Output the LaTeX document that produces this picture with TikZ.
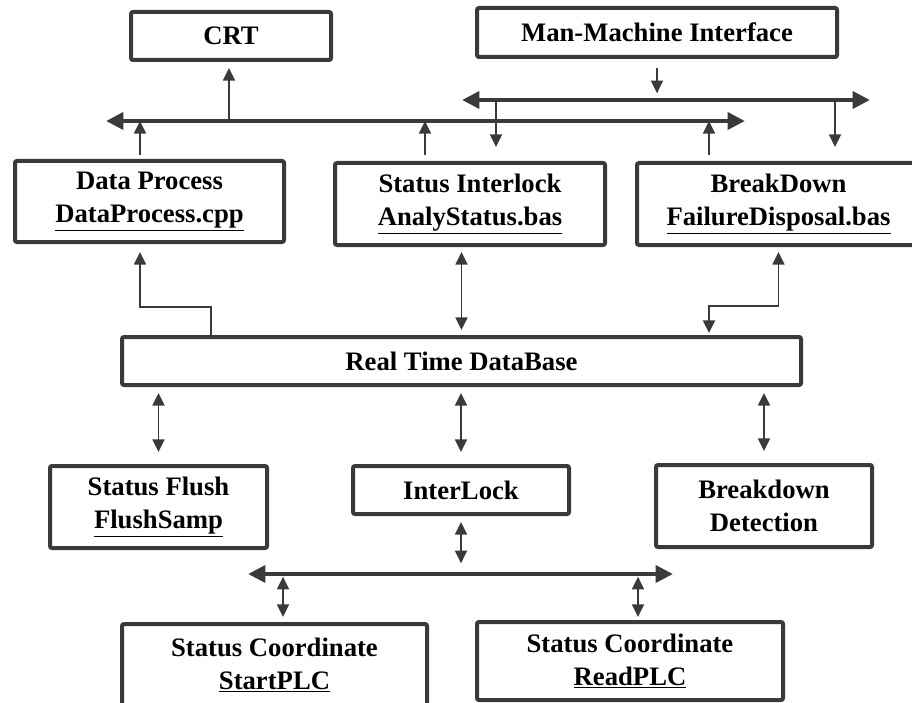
\documentclass[tikz,border=0pt]{standalone}
\usepackage{fontspec}
\setmainfont{Liberation Serif}
\usetikzlibrary{arrows.meta,calc}
\definecolor{linegray}{RGB}{58,58,58}
\tikzset{
  box/.style={draw=linegray, line width=3pt, rounded corners=1.5pt, fill=white, align=center,
    inner sep=0pt, outer sep=0pt, font=\bfseries\fontsize{20}{25}\selectfont},
  bus/.style={draw=linegray, line width=3.6pt, {Triangle[width=12.5pt,length=13pt]}-{Triangle[width=12.5pt,length=13pt]}},
  link/.style={draw=linegray, line width=1.2pt, -{Triangle[width=9pt,length=9.5pt]}},
  dlink/.style={link, {Triangle[width=9pt,length=9.5pt]}-{Triangle[width=9pt,length=9.5pt]}}
}
\begin{document}
\begin{tikzpicture}[x=0.75pt,y=0.75pt,yscale=-1,xscale=1]
        \useasboundingbox (0,0) rectangle (912,702);
        \clip (0,0) rectangle (912,702);
        % Boxes
        \node[box, minimum width=150pt, minimum height=36pt] (crt) at (231,36) {CRT};
        \node[box, minimum width=270pt, minimum height=36.75pt] (mmi) at (657,32.5) {Man-Machine Interface};
        \node[box, minimum width=201.75pt, minimum height=60.75pt] (dproc) at (149.5,201.5) {Data Process\\\underline{DataProcess.cpp}};
        \node[box, minimum width=202.5pt, minimum height=61.5pt] (sinter) at (470,204) {Status Interlock\\\underline{AnalyStatus.bas}};
        \node[box, minimum width=212.25pt, minimum height=61.5pt] (bdown) at (778.5,204) {BreakDown\\\underline{FailureDisposal.bas}};
        \node[box, minimum width=509.25pt, minimum height=36pt] (rtdb) at (461.5,361) {Real Time DataBase};
        \node[box, minimum width=162.75pt, minimum height=61.5pt] (sflush) at (158.5,507) {Status Flush\\\underline{FlushSamp}};
        \node[box, minimum width=162pt, minimum height=36pt] (ilock) at (461,490) {InterLock};
        \node[box, minimum width=162pt, minimum height=61.5pt] (bdetect) at (764,506) {Breakdown\\Detection};
        \node[box, minimum width=228.75pt, minimum height=61.5pt] (scstart) at (274.5,665) {Status Coordinate\\\underline{StartPLC}};
        \node[box, minimum width=229.5pt, minimum height=58.5pt] (scread) at (630,661) {Status Coordinate\\\underline{ReadPLC}};

        % Bus ends and taps
        \coordinate (b1w) at (106,121);
        \coordinate (b1e) at (745,121);
        \coordinate (b2w) at (462,100);
        \coordinate (b2e) at (870,100);
        \coordinate (b3w) at (248,574);
        \coordinate (b3e) at (673,574);
        \coordinate (tapcrt) at (229,121);
        \coordinate (tapdp) at (140,121);
        \coordinate (tapsi) at (425,121);
        \coordinate (tapbd) at (709,121);
        \coordinate (tapmm) at (657,100);
        \coordinate (dropsi) at (496,100);
        \coordinate (dropbd) at (835,100);
        \coordinate (elbdp) at (211,307);
        \coordinate (elbbd) at (709,306);
        \coordinate (tapss) at (283,574);
        \coordinate (tapsr) at (638,574);

        % Upper links
        \draw[link, shorten >=6pt] (tapcrt) -- (tapcrt |- crt.south);
        \draw[link, shorten <=4.5pt] (tapdp |- dproc.north) -- (tapdp);
        \draw[link, shorten <=6pt] (tapsi |- sinter.north) -- (tapsi);
        \draw[link, shorten <=6pt] (tapbd |- bdown.north) -- (tapbd);
        \draw[link, shorten <=8pt, shorten >=5pt] (mmi.south) -- (tapmm);
        \draw[link, shorten >=12pt] (dropsi) -- (dropsi |- sinter.north);
        \draw[link, shorten >=12pt] (dropbd) -- (dropbd |- bdown.north);

        % Database links
        \draw[link, shorten >=7.5pt] (elbdp |- rtdb.north) -- (elbdp) -| (tapdp |- dproc.south);
        \draw[dlink, shorten <=5.25pt, shorten >=5.25pt] (rtdb.north |- sinter.south) -- (rtdb.north);
        \draw[dlink, shorten <=5.25pt, shorten >=3pt] (bdown.south) |- (elbbd) -- (elbbd |- rtdb.north);
        \draw[dlink, shorten <=6pt, shorten >=10.5pt] (sflush.north |- rtdb.south) -- (sflush.north);
        \draw[dlink, shorten <=6pt, shorten >=10.5pt] (ilock.north |- rtdb.south) -- (ilock.north);
        \draw[dlink, shorten <=6pt, shorten >=10.5pt] (bdetect.north |- rtdb.south) -- (bdetect.north);

        % Lower links
        \draw[dlink, shorten <=6pt, shorten >=8pt] (ilock.south) -- (ilock.south |- b3w);
        \draw[dlink, shorten <=2pt, shorten >=5.25pt] (tapss) -- (tapss |- scstart.north);
        \draw[dlink, shorten <=2pt, shorten >=3.75pt] (tapsr) -- (tapsr |- scread.north);

        % Buses
        \draw[bus] (b1w) -- (b1e);
        \draw[bus] (b2w) -- (b2e);
        \draw[bus] (b3w) -- (b3e);
\end{tikzpicture}
\end{document}
